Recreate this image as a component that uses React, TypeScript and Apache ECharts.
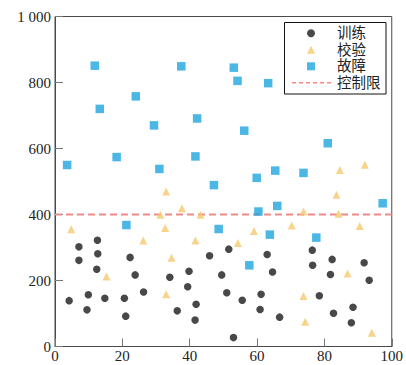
import React, { useEffect, useRef } from "react";
import * as echarts from "echarts";

const seriesNames = ["训练", "校验", "故障", "控制限"];

const trainX = [4.2, 7.1, 7.1, 12.6, 12.7, 12.4, 9.9, 9.5, 14.8, 20.6, 21.0, 22.3, 23.8, 26.3, 34.1, 36.3, 39.8, 39.4, 41.9, 41.6, 45.9, 49.5, 51.6, 51.0, 53.0, 55.6, 61.2, 60.9, 63.0, 64.6, 66.7, 76.4, 76.5, 78.5, 82.3, 81.8, 82.7, 88.5, 88.0, 91.8, 93.3];
const trainY = [139, 302, 261, 322, 281, 234, 157, 111, 146, 146, 92, 270, 217, 165, 210, 108, 228, 181, 128, 80, 275, 217, 295, 163, 27, 140, 158, 112, 279, 226, 89, 292, 246, 154, 264, 218, 101, 119, 72, 254, 201];

const validX = [4.8, 33.0, 31.3, 32.7, 37.7, 43.2, 26.2, 41.7, 54.3, 59.1, 70.3, 73.8, 84.6, 83.6, 84.2, 90.5, 92.0, 15.3, 33.0, 34.6, 73.8, 74.3, 86.9, 94.1];
const validY = [355, 470, 399, 359, 419, 399, 321, 321, 314, 350, 367, 409, 535, 460, 402, 365, 551, 212, 158, 269, 153, 75, 221, 42];

const faultX = [11.8, 13.3, 24.0, 29.4, 37.5, 42.2, 53.1, 54.2, 63.3, 56.2, 3.6, 18.3, 31.0, 41.7, 47.2, 21.2, 48.6, 59.9, 65.4, 60.4, 66.0, 63.8, 73.8, 81.0, 77.6, 97.3, 57.7];
const faultY = [851, 720, 758, 670, 849, 691, 845, 805, 798, 654, 550, 574, 538, 576, 489, 368, 356, 511, 533, 409, 426, 339, 526, 616, 330, 434, 246];

const controlLimit = 400;
const xTicks = [0, 20, 40, 60, 80, 100];
const yTicks = [0, 200, 400, 600, 800, 1000];

const zip = (xs: number[], ys: number[]) => xs.map((x, i) => [x, ys[i]]);

const colors = {
  train: "#1a1a1a",
  valid: "#f6c86e",
  fault: "#1ea5de",
  limit: "#f08a8a",
};

export default function App() {
  const ref = useRef<HTMLDivElement>(null);
  useEffect(() => {
    document.body.style.margin = "0";
    const chart = echarts.init(ref.current!, null, { renderer: "svg" });
    const serif = "'Liberation Serif', 'Times New Roman', serif";
    const axisColor = "#4a4a4a";
    chart.setOption({
      animation: false,
      backgroundColor: "#fff",
      grid: {
        left: 55,
        right: 12,
        top: 16.5,
        bottom: 18.5,
        show: true,
        borderColor: axisColor,
        borderWidth: 1,
      },
      xAxis: {
        type: "value",
        min: xTicks[0],
        max: xTicks[xTicks.length - 1],
        interval: 20,
        axisLine: { show: true, onZero: false, lineStyle: { color: axisColor, width: 1 } },
        axisTick: { show: true, inside: true, length: 8, lineStyle: { color: "#777" } },
        splitLine: { show: false },
        axisLabel: { fontFamily: serif, fontSize: 15, color: "#222", margin: 2 },
      },
      yAxis: {
        type: "value",
        min: yTicks[0],
        max: yTicks[yTicks.length - 1],
        interval: 200,
        axisLine: { show: true, onZero: false, lineStyle: { color: axisColor, width: 1 } },
        axisTick: { show: true, inside: true, length: 8, lineStyle: { color: "#777" } },
        splitLine: { show: false },
        axisLabel: {
          fontFamily: serif,
          fontSize: 15,
          color: "#222",
          margin: 4,
          formatter: (v: number) => String(v).replace(/\B(?=(\d{3})+(?!\d))/g, " "),
        },
      },
      graphic: {
        elements: [
          {
            type: "rect",
            z: 10,
            shape: { x: 284.5, y: 22.5, width: 101.5, height: 71.5 },
            style: { fill: "#fff", stroke: "#111", lineWidth: 1 },
          },
          {
            type: "line",
            z: 11,
            shape: { x1: 292, y1: 82.7, x2: 332, y2: 82.7 },
            style: { stroke: colors.limit, lineWidth: 1.5, lineDash: [4, 3] },
          },
        ],
      },
      legend: {
        orient: "vertical",
        left: 307,
        top: 25.3,
        padding: 0,
        itemWidth: 8,
        itemHeight: 8,
        itemGap: 0.5,
        z: 12,
        textStyle: {
          fontFamily: "'Liberation Serif', 'Noto Sans CJK SC', serif",
          fontSize: 14.5,
          lineHeight: 16,
          color: "#222",
          padding: [0, 0, 0, 17],
        },
        data: [
          { name: seriesNames[0], icon: "circle" },
          { name: seriesNames[1], icon: "triangle" },
          { name: seriesNames[2], icon: "rect" },
          { name: seriesNames[3], icon: "rect", itemStyle: { opacity: 0 } },
        ],
      },
      series: [
        {
          name: seriesNames[0],
          type: "scatter",
          symbol: "circle",
          symbolSize: 7.5,
          itemStyle: { color: colors.train },
          data: zip(trainX, trainY),
          z: 3,
        },
        {
          name: seriesNames[1],
          type: "scatter",
          symbol: "triangle",
          symbolSize: 8,
          itemStyle: { color: colors.valid },
          data: zip(validX, validY),
          z: 3,
        },
        {
          name: seriesNames[2],
          type: "scatter",
          symbol: "rect",
          symbolSize: 8.5,
          itemStyle: { color: colors.fault },
          data: zip(faultX, faultY),
          z: 3,
        },
        {
          name: seriesNames[3],
          type: "line",
          symbol: "none",
          lineStyle: { color: colors.limit, width: 1.8, type: [7, 4] },
          itemStyle: { color: colors.limit },
          data: [
            [xTicks[0], controlLimit],
            [xTicks[xTicks.length - 1], controlLimit],
          ],
          z: 2,
        },
      ],
    });
    return () => chart.dispose();
  }, []);
  return <div ref={ref} style={{ width: 406, height: 365 }} />;
}
